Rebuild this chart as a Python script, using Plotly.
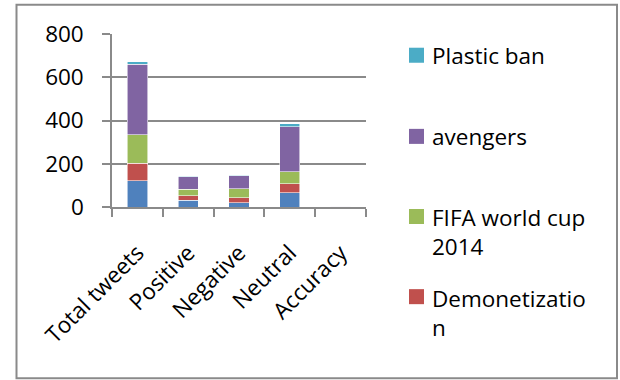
import plotly.graph_objects as go

categories = ["Total tweets", "Positive", "Negative", "Neutral", "Accuracy"]
series_names = ["Series 1", "Demonetization", "FIFA world cup 2014", "avengers", "Plastic ban"]
s_blue = [122, 32, 19, 67, 0.8]
s_demonetization = [81, 19, 23, 41, 0.7]
s_fifa = [130, 31, 42, 54, 0.8]
s_avengers = [328, 59, 61, 209, 0.9]
s_plastic = [10, 2, 2, 13, 0.8]
colors = ["#4F81BD", "#C0504D", "#9BBB59", "#8064A2", "#4BACC6"]
y_ticks = [0, 200, 400, 600, 800]

W, H = 620, 380
L, R, T, B = 112, 366, 34.3, 207
FONT = "Open Sans"
FS = 22.5
GRAY = "#8a8a8a"

fig = go.Figure()
for name, vals, col in zip(series_names,
                           [s_blue, s_demonetization, s_fifa, s_avengers, s_plastic],
                           colors):
    fig.add_trace(go.Bar(x=categories, y=vals, name=name, marker_color=col,
                         marker_line=dict(color="rgba(255,255,255,0.7)", width=0.8),
                         showlegend=False))

def px(xp):
    return (xp - L) / (R - L)

def py(yp):
    return (B - yp) / (B - T)

shapes = [dict(type="rect", xref="paper", yref="paper",
               x0=px(16.5), x1=px(617), y0=py(378), y1=py(5),
               line=dict(color=GRAY, width=2), fillcolor="rgba(0,0,0,0)", layer="below")]

legend_items = [
    ("Plastic ban", colors[4], 55.5, 55.5),
    ("avengers", colors[3], 136.5, 136.5),
    ("FIFA world cup<br>2014", colors[2], 216.5, 232),
    ("Demonetizatio<br>n", colors[1], 296.5, 313),
]
annotations = []
for txt, col, my, ty in legend_items:
    shapes.append(dict(type="rect", xref="paper", yref="paper",
                       x0=px(409), x1=px(424), y0=py(my + 7.5), y1=py(my - 7.5),
                       line=dict(width=0), fillcolor=col))
    annotations.append(dict(text=txt, xref="paper", yref="paper", align="left",
                            x=px(430), y=py(ty), xanchor="left", yanchor="middle",
                            showarrow=False, font=dict(family=FONT, size=FS, color="#000")))

fig.update_layout(
    width=W, height=H,
    margin=dict(l=L, r=W - R, t=T, b=H - B, pad=0),
    barmode="stack", bargap=0.6,
    plot_bgcolor="white", paper_bgcolor="white",
    font=dict(family=FONT, size=FS, color="#000"),
    shapes=shapes, annotations=annotations,
    xaxis=dict(type="category", tickangle=-45, showgrid=False, showline=True,
               linecolor=GRAY, linewidth=1.5, ticks="outside", ticklen=8,
               tickcolor=GRAY, tickwidth=1.5, tickson="boundaries",
               ticklabelstandoff=22,
               tickfont=dict(family=FONT, size=FS, color="#000")),
    yaxis=dict(range=[0, 800], tickvals=y_ticks, showgrid=True, gridcolor=GRAY,
               gridwidth=1.5, showline=True, linecolor=GRAY, linewidth=1.5,
               ticks="outside", ticklen=8, tickcolor=GRAY, tickwidth=1.5,
               zeroline=False, ticklabelstandoff=14,
               tickfont=dict(family=FONT, size=FS, color="#000")),
)

fig.write_html("out.html")
